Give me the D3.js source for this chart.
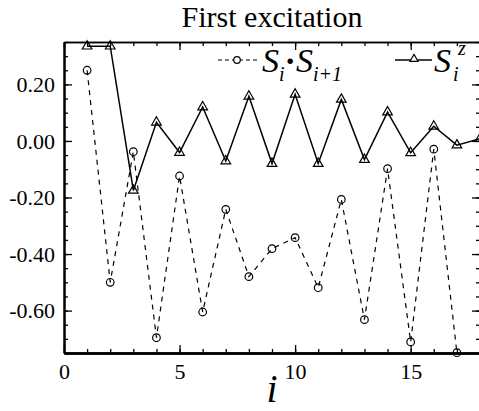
<!DOCTYPE html>
<html>
<head>
<meta charset="utf-8">
<script src="https://cdn.jsdelivr.net/npm/d3@7"></script>
<style>
  body { margin: 0; background: #fff; }
  svg, svg text { font-family: "Liberation Serif", "Times New Roman", Tinos, "DejaVu Serif", serif !important; }
</style>
</head>
<body>
<div id="chart"></div>
<script>
var svgWidth = 479;
var svgHeight = 411;

var margin = { top: 42, right: -1, bottom: 58, left: 64 };
var width = svgWidth - margin.left - margin.right;
var height = svgHeight - margin.top - margin.bottom;
var serif = '"Liberation Serif", "Times New Roman", Tinos, "DejaVu Serif", serif';

// data
var siteIndex = [1, 2, 3, 4, 5, 6, 7, 8, 9, 10, 11, 12, 13, 14, 15, 16, 17];
var bondCorr = [0.25, -0.50, -0.038, -0.696, -0.124, -0.605, -0.242, -0.48, -0.381, -0.342,
                -0.519, -0.207, -0.632, -0.098, -0.711, -0.029, -0.749];
var szIndex = [1, 2, 3, 4, 5, 6, 7, 8, 9, 10, 11, 12, 13, 14, 15, 16, 17, 18];
var szValues = [0.335, 0.335, -0.175, 0.066, -0.041, 0.12, -0.071, 0.158, -0.08, 0.165,
                -0.08, 0.147, -0.066, 0.102, -0.042, 0.052, -0.015, 0.008];
var xTicks = [0, 5, 10, 15];
var yTicks = [0.2, 0, -0.2, -0.4, -0.6];

var svg = d3.select("#chart")
  .append("svg")
  .attr("width", svgWidth)
  .attr("height", svgHeight)
  .attr("font-family", serif);

var chartGroup = svg.append("g")
  .attr("transform", `translate(${margin.left}, ${margin.top})`);

var x = d3.scaleLinear().domain([0, 18]).range([0, width]);
var y = d3.scaleLinear().domain([-0.75, 0.35]).range([height, 0]);

svg.append("defs").append("clipPath").attr("id", "clip")
  .append("rect").attr("x", -6).attr("y", -6).attr("width", width + 6).attr("height", height + 12);

// minor + major ticks, all pointing inward
var xMinor = d3.range(0, 19, 1);
var yMinor = d3.range(-0.75, 0.351, 0.05);
var fmtY = d => d3.format(".2f")(d).replace("\u2212", "-");

var bottomAxis = d3.axisBottom(x).tickValues(xTicks).tickFormat(d3.format("d"))
  .tickSizeInner(-8).tickSizeOuter(0).tickPadding(10);
var bottomMinor = d3.axisBottom(x).tickValues(xMinor).tickFormat("").tickSizeInner(-4).tickSizeOuter(0);
var topMinor = d3.axisTop(x).tickValues(xMinor).tickFormat("").tickSizeInner(-4).tickSizeOuter(0);
var topMajor = d3.axisTop(x).tickValues(xTicks).tickFormat("").tickSizeInner(-8).tickSizeOuter(0);

var leftAxis = d3.axisLeft(y).tickValues(yTicks).tickFormat(fmtY)
  .tickSizeInner(-8).tickSizeOuter(0).tickPadding(9);
var leftMinor = d3.axisLeft(y).tickValues(yMinor).tickFormat("").tickSizeInner(-4).tickSizeOuter(0);
var rightMinor = d3.axisRight(y).tickValues(yMinor).tickFormat("").tickSizeInner(-4).tickSizeOuter(0);
var rightMajor = d3.axisRight(y).tickValues(yTicks).tickFormat("").tickSizeInner(-8).tickSizeOuter(0);

function styleAxis(g, w) {
  g.attr("font-family", serif);
  g.select(".domain").attr("stroke", "#000").attr("stroke-width", w);
  g.selectAll(".tick line").attr("stroke", "#000").attr("stroke-width", 1.3);
  g.selectAll(".tick text").style("font-size", "22px").attr("fill", "#000");
}

chartGroup.append("g").attr("transform", `translate(0, ${height})`).call(bottomMinor).call(g => styleAxis(g, 2.5));
chartGroup.append("g").attr("transform", `translate(0, ${height})`).call(bottomAxis).call(g => styleAxis(g, 2.5));
chartGroup.append("g").call(topMinor).call(g => styleAxis(g, 1.5));
chartGroup.append("g").call(topMajor).call(g => styleAxis(g, 1.5));
chartGroup.append("g").call(leftMinor).call(g => styleAxis(g, 2));
chartGroup.append("g").call(leftAxis).call(g => styleAxis(g, 2));
chartGroup.append("g").attr("transform", `translate(${width}, 0)`).call(rightMinor).call(g => styleAxis(g, 1.5));
chartGroup.append("g").attr("transform", `translate(${width}, 0)`).call(rightMajor).call(g => styleAxis(g, 1.5));

var plot = chartGroup.append("g").attr("clip-path", "url(#clip)");

// S_i . S_i+1 : dashed line, open circles
var bondLine = d3.line().x((d, i) => x(siteIndex[i])).y(d => y(d));
plot.append("path")
  .datum(bondCorr)
  .attr("d", bondLine)
  .attr("fill", "none")
  .attr("stroke", "#000")
  .attr("stroke-width", 1.2)
  .attr("stroke-dasharray", "5,5");

plot.selectAll("circle.bond")
  .data(bondCorr)
  .enter()
  .append("circle")
  .attr("class", "bond")
  .attr("cx", (d, i) => x(siteIndex[i]))
  .attr("cy", d => y(d))
  .attr("r", 3.8)
  .attr("fill", "none")
  .attr("stroke", "#000")
  .attr("stroke-width", 1.2);

// S_i^z : solid line, open triangles
var szLine = d3.line().x((d, i) => x(szIndex[i])).y(d => y(d));
plot.append("path")
  .datum(szValues)
  .attr("d", szLine)
  .attr("fill", "none")
  .attr("stroke", "#000")
  .attr("stroke-width", 1.5);

var tri = d3.symbol().type(d3.symbolTriangle).size(40);
plot.selectAll("path.sz")
  .data(szValues)
  .enter()
  .append("path")
  .attr("class", "sz")
  .attr("d", tri)
  .attr("transform", (d, i) => `translate(${x(szIndex[i])}, ${y(d)})`)
  .attr("fill", "none")
  .attr("stroke", "#000")
  .attr("stroke-width", 1.2);

// legend
var legend = svg.append("g");
legend.append("line").attr("x1", 218).attr("x2", 258).attr("y1", 60).attr("y2", 60)
  .attr("stroke", "#000").attr("stroke-width", 1.2).attr("stroke-dasharray", "4,3");
legend.append("circle").attr("cx", 237).attr("cy", 60).attr("r", 3.3)
  .attr("fill", "#fff").attr("stroke", "#000").attr("stroke-width", 1.2);
var t1 = legend.append("text").attr("x", 262).attr("y", 72).style("font-size", "34px").style("font-style", "italic");
t1.append("tspan").text("S");
t1.append("tspan").attr("dy", 9).style("font-size", "20px").text("i");
t1.append("tspan").attr("dy", -9).style("font-style", "normal").style("font-weight", "bold").text("\u00b7");
t1.append("tspan").text("S");
t1.append("tspan").attr("dy", 9).style("font-size", "20px").text("i+1");

legend.append("line").attr("x1", 395).attr("x2", 432).attr("y1", 60).attr("y2", 60)
  .attr("stroke", "#000").attr("stroke-width", 1.5);
legend.append("path").attr("d", d3.symbol().type(d3.symbolTriangle).size(28))
  .attr("transform", "translate(414, 59)")
  .attr("fill", "#fff").attr("stroke", "#000").attr("stroke-width", 1.2);
var t2 = legend.append("text").attr("x", 434).attr("y", 72).style("font-size", "34px").style("font-style", "italic");
t2.append("tspan").text("S");
t2.append("tspan").attr("x", 453).attr("dy", 9).style("font-size", "20px").text("i");
t2.append("tspan").attr("x", 458).attr("dy", -26).style("font-size", "20px").text("z");

// title and axis label
svg.append("text")
  .attr("x", 272).attr("y", 27)
  .attr("text-anchor", "middle")
  .style("font-size", "30px")
  .text("First excitation");

svg.append("text")
  .attr("x", 272).attr("y", 402)
  .attr("text-anchor", "middle")
  .style("font-size", "40px")
  .style("font-style", "italic")
  .text("i");
</script>
</body>
</html>
